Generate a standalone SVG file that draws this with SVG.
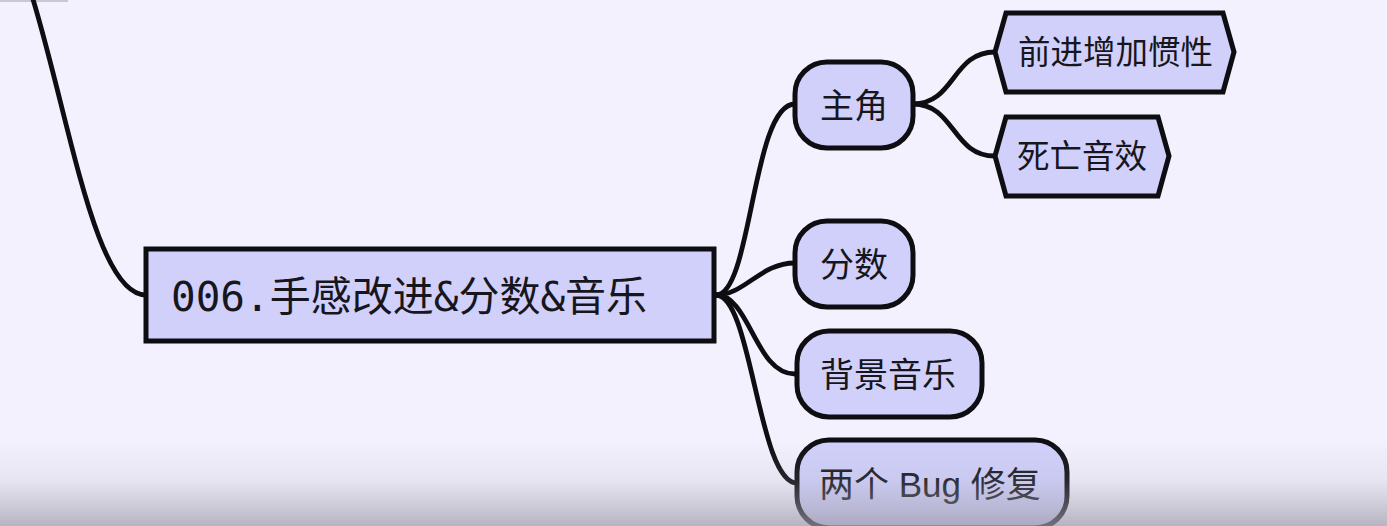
<svg xmlns="http://www.w3.org/2000/svg" width="1387" height="526" viewBox="0 0 1387 526">
<style>
.bg{fill:#f3f1fd}
.node{fill:#d0d0fb;stroke:#0d0d12;stroke-width:5}
.edge{fill:none;stroke:#0d0d12;stroke-width:4.8;stroke-linecap:round}
.t{font-family:"Liberation Sans","Noto Sans CJK SC",sans-serif;font-size:34px;fill:#16161c}
.th{font-family:"Noto Sans CJK SC",sans-serif;font-size:32.5px;fill:#16161c}
.tm{font-family:"DejaVu Sans Mono","Noto Sans CJK SC",monospace;font-size:41px;fill:#16161c}
</style>
<defs>
<linearGradient id="shade" x1="0" y1="0" x2="0" y2="1">
<stop offset="0" stop-color="#a9a6b4" stop-opacity="0"/>
<stop offset="0.45" stop-color="#a9a6b4" stop-opacity="0.15"/>
<stop offset="1" stop-color="#9d9aa8" stop-opacity="0.7"/>
</linearGradient>
</defs>
<rect class="bg" x="0" y="0" width="1387" height="526"/>
<rect x="0" y="0" width="68" height="2" fill="#c9c7d0"/>
<g id="connectors">
<path class="edge" d="M32,-4 C70,120 95,295 146,295"/>
<path class="edge" d="M716,295 C752,295 752,104 795,104"/>
<path class="edge" d="M716,295 C745,295 760,263 795,263"/>
<path class="edge" d="M716,295 C750,295 755,374 795,374"/>
<path class="edge" d="M716,295 C752,295 758,483 797,483"/>
<path class="edge" d="M913,104 C955,104 952,52 995,52"/>
<path class="edge" d="M913,104 C955,104 952,156 995,156"/>
</g>
<g id="root">
<rect class="node" x="146" y="249" width="568" height="92"/>
<text class="tm" x="171" y="311">006.手感改进&amp;分数&amp;音乐</text>
</g>
<g id="zhujue">
<rect class="node" x="795" y="62" width="118" height="86" rx="32"/>
<text class="t" x="820" y="118">主角</text>
</g>
<g id="qianjin">
<polygon class="node" points="995,52 1006,13 1223,13 1234,52 1223,92 1006,92"/>
<text class="th" x="1018" y="64">前进增加惯性</text>
</g>
<g id="siwang">
<polygon class="node" points="995,156 1006,117 1158,117 1169,156 1158,196 1006,196"/>
<text class="th" x="1017" y="168">死亡音效</text>
</g>
<g id="fenshu">
<rect class="node" x="795" y="221" width="118" height="86" rx="32"/>
<text class="t" x="820" y="277">分数</text>
</g>
<g id="beijing">
<rect class="node" x="797" y="331" width="185" height="86" rx="32"/>
<text class="t" x="820" y="387">背景音乐</text>
</g>
<g id="bug">
<rect class="node" x="797" y="440" width="270" height="88" rx="32"/>
<text class="t" x="819" y="497" style="font-size:35px">两个 Bug 修复</text>
</g>
<rect x="0" y="440" width="1387" height="86" fill="url(#shade)"/>
</svg>
